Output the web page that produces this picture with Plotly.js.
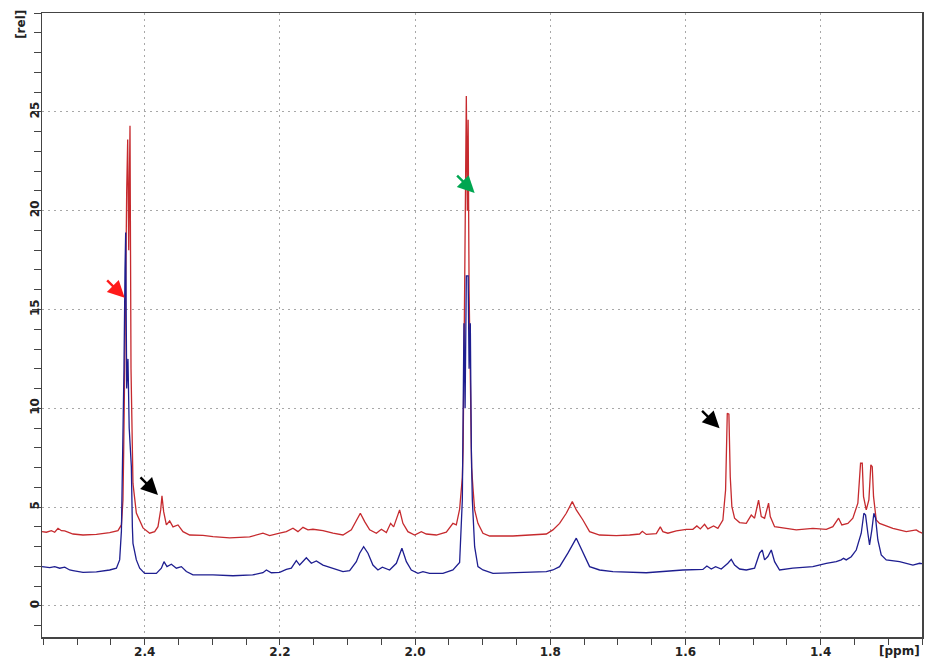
<!DOCTYPE html>
<html>
<head>
<meta charset="utf-8">
<script src="https://cdn.plot.ly/plotly-3.0.1.min.js"></script>
<style>html,body{margin:0;padding:0;background:#fff;}#chart{width:925px;height:660px;}</style>
</head>
<body>
<div id="chart"></div>
<script>
// Red spectrum (upper trace), chemical shift in ppm and relative intensity
const redPpm = [2.552,2.5455,2.5381,2.5332,2.5283,2.5233,2.5184,2.5135,2.5061,2.4913,2.4715,2.4519,2.4396,2.4345,2.4322,2.4311,2.4297,2.4282,2.4267,2.4252,2.4237,2.4218,2.4203,2.4189,2.4174,2.4124,2.4026,2.3927,2.3853,2.3804,2.3764,2.3745,2.3720,2.3680,2.3631,2.3582,2.3508,2.3434,2.3335,2.3138,2.2990,2.2743,2.2448,2.2251,2.2152,2.2004,2.1905,2.1807,2.1733,2.1659,2.1585,2.1511,2.1363,2.1215,2.1067,2.0943,2.0869,2.0810,2.0746,2.0672,2.0573,2.0499,2.0425,2.0362,2.0317,2.0229,2.0180,2.0106,2.0007,1.9908,1.9834,1.9686,1.9538,1.9440,1.9390,1.9341,1.9301,1.9289,1.9267,1.9242,1.9227,1.9215,1.9201,1.9183,1.9164,1.9144,1.9119,1.9070,1.8996,1.8897,1.8553,1.8058,1.7961,1.7862,1.7763,1.7674,1.7615,1.7517,1.7418,1.7270,1.7023,1.6826,1.6678,1.6638,1.6579,1.6431,1.6372,1.6334,1.6260,1.6135,1.5987,1.5890,1.5831,1.5780,1.5717,1.5668,1.5584,1.5520,1.5446,1.5406,1.5381,1.5357,1.5347,1.5337,1.5313,1.5273,1.5199,1.5100,1.5026,1.4977,1.4918,1.4878,1.4829,1.4770,1.4745,1.4681,1.4508,1.4360,1.4115,1.3916,1.3819,1.3734,1.3686,1.3597,1.3523,1.3449,1.3409,1.3384,1.3365,1.3325,1.3286,1.3257,1.3236,1.3217,1.3177,1.3128,1.2931,1.2733,1.2585,1.2547,1.2462];
const redInt = [3.76,3.73,3.81,3.73,3.93,3.81,3.80,3.73,3.64,3.59,3.62,3.71,3.81,4.10,5.36,7.9,11.0,16.0,21.0,23.6,18.0,24.3,12.0,7.5,6.2,4.7,3.95,3.68,3.76,4.01,4.86,5.57,4.77,4.10,4.30,4.00,4.10,3.76,3.59,3.57,3.51,3.45,3.50,3.68,3.56,3.68,3.76,3.93,3.76,3.98,3.85,3.88,3.81,3.68,3.59,3.85,4.35,4.69,4.27,3.85,3.68,3.88,3.71,4.18,4.00,4.86,4.18,3.76,3.59,3.76,3.64,3.59,3.73,4.18,4.10,4.90,6.5,8.0,16.0,25.8,20.0,24.6,16.0,10.0,7.0,6.0,4.86,4.18,3.68,3.54,3.54,3.64,3.85,4.18,4.69,5.28,4.86,4.35,3.76,3.59,3.56,3.59,3.64,3.78,3.62,3.66,4.00,3.76,3.68,3.80,3.88,3.88,4.05,3.90,4.13,3.90,4.05,3.93,4.35,5.87,9.75,9.70,7.9,6.54,5.03,4.44,4.22,4.18,4.60,4.44,5.36,4.52,4.44,5.20,4.52,4.01,3.93,3.85,3.93,3.88,4.01,4.44,4.10,4.18,4.44,5.20,7.22,7.22,5.53,4.86,5.36,7.14,7.05,5.53,4.35,4.18,3.93,3.76,3.85,3.76,3.64];

// Blue spectrum (lower trace)
const bluePpm = [2.552,2.5406,2.5332,2.5258,2.5184,2.5110,2.5061,2.4913,2.4715,2.4519,2.4419,2.4371,2.4345,2.4322,2.4307,2.4292,2.4282,2.4267,2.4248,2.4230,2.4198,2.4183,2.4174,2.4124,2.4075,2.4001,2.3828,2.3754,2.3715,2.3671,2.3606,2.3532,2.3458,2.3384,2.3286,2.2990,2.2695,2.2403,2.2251,2.2200,2.2127,2.2004,2.1905,2.1831,2.1757,2.1708,2.1609,2.1535,2.1461,2.1363,2.1215,2.1067,2.0968,2.0869,2.0820,2.0761,2.0697,2.0624,2.0550,2.0484,2.0377,2.0277,2.0195,2.0129,2.0056,1.9958,1.9884,1.9785,1.9588,1.9440,1.9341,1.9301,1.9277,1.9260,1.9242,1.9215,1.9201,1.9183,1.9168,1.9153,1.9119,1.9070,1.8996,1.8848,1.8058,1.7961,1.7862,1.7739,1.7615,1.7517,1.7418,1.7270,1.7073,1.6579,1.6038,1.5742,1.5683,1.5618,1.5554,1.5470,1.5372,1.5322,1.5273,1.5199,1.5100,1.4977,1.4903,1.4863,1.4829,1.4780,1.4730,1.4681,1.4607,1.4411,1.4115,1.3916,1.3769,1.3695,1.3661,1.3621,1.3547,1.3473,1.3399,1.3360,1.3335,1.3301,1.3276,1.3242,1.3212,1.3187,1.3153,1.3103,1.3029,1.2832,1.2635,1.2535,1.2462];
const blueInt = [1.99,1.94,1.99,1.91,1.96,1.82,1.79,1.70,1.72,1.82,1.91,2.33,3.8,7.9,12.0,17.0,18.9,11.0,12.5,9.0,7.05,4.0,3.17,2.33,1.91,1.65,1.65,1.91,2.24,1.99,2.11,1.91,1.99,1.74,1.57,1.57,1.53,1.57,1.68,1.82,1.68,1.70,1.85,1.91,2.29,2.07,2.44,2.16,2.28,2.07,1.91,1.74,1.79,2.24,2.67,3.00,2.67,2.07,1.82,1.96,1.82,2.16,2.92,2.24,1.82,1.65,1.74,1.65,1.65,1.82,2.20,5.36,14.3,10.0,16.7,16.7,12.0,14.3,8.0,5.36,3.00,1.99,1.82,1.65,1.74,1.82,1.99,2.67,3.43,2.75,1.99,1.82,1.74,1.68,1.82,1.85,2.02,1.87,1.99,1.87,2.16,2.36,2.07,1.87,1.82,1.91,2.67,2.83,2.33,2.50,2.83,2.24,1.82,1.91,1.99,2.16,2.24,2.33,2.41,2.33,2.49,2.83,3.68,4.69,4.60,3.68,3.09,3.85,4.69,4.44,3.34,2.58,2.33,2.24,2.07,2.16,2.12];

// Axis ticks
const xTickVals = [2.4, 2.2, 2.0, 1.8, 1.6, 1.4];
const xTickText = ['2.4', '2.2', '2.0', '1.8', '1.6', '1.4'];
const yTickVals = [0, 5, 10, 15, 20, 25];
const yTickText = ['0', '5', '10', '15', '20', '25'];

const tickFont = {family: 'DejaVu Sans, Verdana, sans-serif', size: 12, color: '#222', weight: 'bold'};

const traces = [
  {x: redPpm, y: redInt, type: 'scatter', mode: 'lines', line: {color: '#c62a2e', width: 1.3}, hoverinfo: 'skip', showlegend: false},
  {x: bluePpm, y: blueInt, type: 'scatter', mode: 'lines', line: {color: '#1e1e90', width: 1.3}, hoverinfo: 'skip', showlegend: false}
];

function arrow(x, y, color) {
  return {x: x, y: y, xref: 'x', yref: 'y', text: '', showarrow: true,
    ax: -19, ay: -19, arrowhead: 2, arrowsize: 1.4, arrowwidth: 2.4, arrowcolor: color, standoff: 0};
}

const layout = {
  width: 925, height: 660,
  margin: {l: 42, r: 3, t: 13, b: 23, pad: 0},
  paper_bgcolor: '#ffffff', plot_bgcolor: '#ffffff',
  xaxis: {
    range: [2.552, 1.25], autorange: false,
    tickmode: 'array', tickvals: xTickVals, ticktext: xTickText,
    ticks: 'outside', ticklen: 6, tickwidth: 1, tickcolor: '#444',
    tickfont: tickFont, ticklabelstandoff: -3,
    showgrid: true, gridcolor: '#a8a8a8', gridwidth: 1, griddash: '2px,4px',
    minor: {tickmode: 'linear', tick0: 1.4, dtick: 0.05, ticks: 'outside', ticklen: 6, tickcolor: '#444', showgrid: false},
    showline: true, linecolor: '#444', linewidth: 1.5, mirror: true,
    zeroline: false, fixedrange: true
  },
  yaxis: {
    range: [-1.57, 30], autorange: false,
    tickmode: 'array', tickvals: yTickVals, ticktext: yTickText,
    ticks: 'outside', ticklen: 9, tickwidth: 1, tickcolor: '#444',
    tickangle: -90, tickfont: tickFont, ticklabelstandoff: -12,
    showgrid: true, gridcolor: '#a8a8a8', gridwidth: 1, griddash: '2px,4px',
    minor: {tickmode: 'linear', tick0: 0, dtick: 1, ticks: 'outside', ticklen: 7, tickcolor: '#444', showgrid: false},
    showline: true, linecolor: '#444', linewidth: 1.5, mirror: true,
    zeroline: false, fixedrange: true
  },
  annotations: [
    {text: '[rel]', xref: 'paper', yref: 'y', x: 0, y: 29.4, xanchor: 'right', yanchor: 'middle', xshift: -12,
     showarrow: false, textangle: -90, font: tickFont},
    {text: '[ppm]', xref: 'paper', yref: 'paper', x: 1, y: 0, xanchor: 'right', yanchor: 'top', yshift: -5,
     showarrow: false, font: tickFont},
    arrow(2.4297, 15.59, '#ff1a1a'),
    arrow(2.3804, 5.62, '#000000'),
    arrow(1.9119, 20.89, '#00a651'),
    arrow(1.5495, 8.99, '#000000')
  ]
};

Plotly.newPlot('chart', traces, layout, {displayModeBar: false, staticPlot: true});
</script>
</body>
</html>
